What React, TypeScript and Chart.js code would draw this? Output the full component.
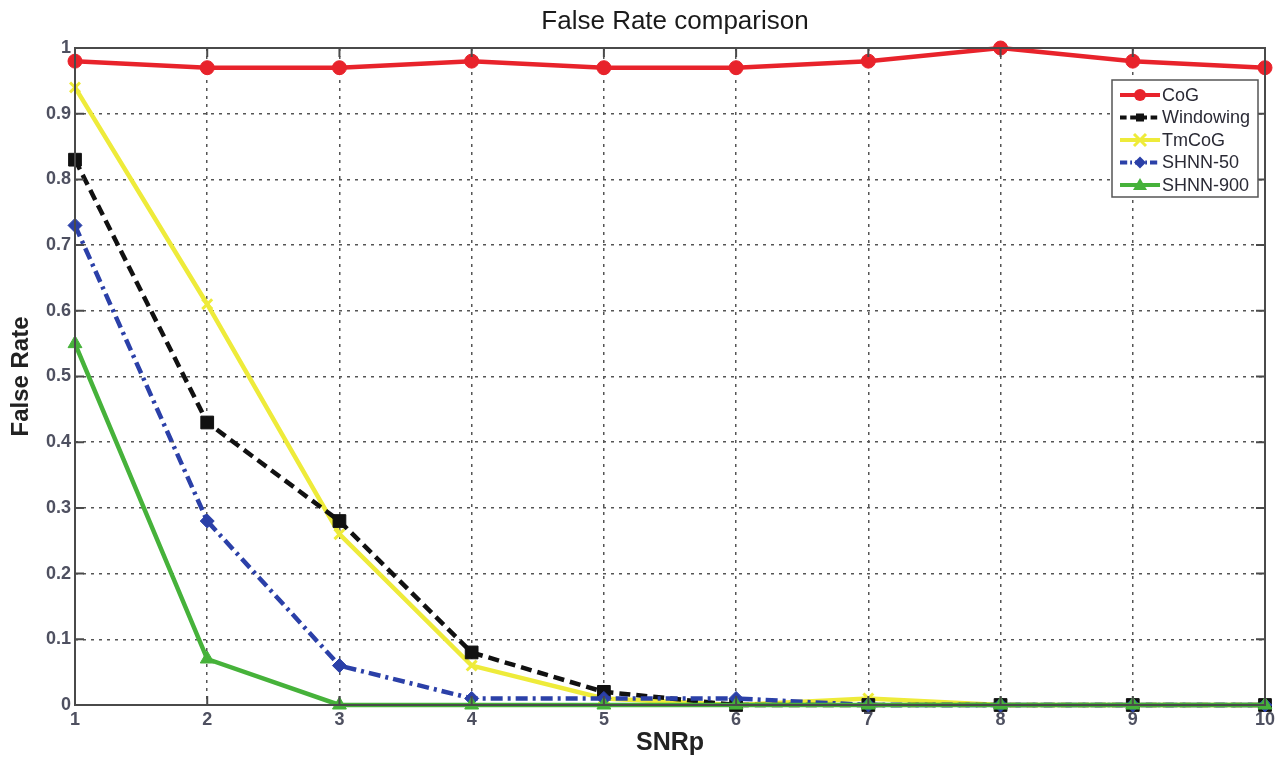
import React, { useEffect, useRef } from "react";
import { Chart, registerables } from "chart.js";

Chart.register(...registerables);

const snrp = [1, 2, 3, 4, 5, 6, 7, 8, 9, 10];
const cog = [0.98, 0.97, 0.97, 0.98, 0.97, 0.97, 0.98, 1.0, 0.98, 0.97];
const windowing = [0.83, 0.43, 0.28, 0.08, 0.02, 0, 0, 0, 0, 0];
const tmcog = [0.94, 0.61, 0.26, 0.06, 0.01, 0, 0.01, 0, 0, 0];
const shnn50 = [0.73, 0.28, 0.06, 0.01, 0.01, 0.01, 0, 0, 0, 0];
const shnn900 = [0.55, 0.07, 0, 0, 0, 0, 0, 0, 0, 0];
const yTicks = [0, 0.1, 0.2, 0.3, 0.4, 0.5, 0.6, 0.7, 0.8, 0.9, 1];
const titleText = "False Rate comparison";
const xTitle = "SNRp";
const yTitle = "False Rate";

const RED = "#e8232b";
const BLACK = "#111111";
const YELLOW = "#eeeb3a";
const BLUE = "#2b40a8";
const GREEN = "#46b23a";
const FONT = "Arial, 'Liberation Sans', sans-serif";

const series = [
  { label: "CoG", data: cog, color: RED, dash: [] as number[], style: "circle", r: 7, lr: 6, order: 4 },
  { label: "Windowing", data: windowing, color: BLACK, dash: [11, 6], style: "rect", r: 9, lr: 4, order: 2 },
  { label: "TmCoG", data: tmcog, color: YELLOW, dash: [] as number[], style: "crossRot", r: 7, lr: 6, order: 3 },
  { label: "SHNN-50", data: shnn50, color: BLUE, dash: [12, 5, 3, 5], style: "rectRot", r: 7, lr: 6, order: 1 },
  { label: "SHNN-900", data: shnn900, color: GREEN, dash: [] as number[], style: "triangle", r: 8, lr: 7, order: 0 },
];

function drawMarker(ctx: CanvasRenderingContext2D, style: string, x: number, y: number, r: number, color: string) {
  ctx.save();
  ctx.fillStyle = color;
  ctx.strokeStyle = color;
  ctx.lineWidth = 2;
  ctx.setLineDash([]);
  ctx.beginPath();
  if (style === "circle") {
    ctx.arc(x, y, r, 0, Math.PI * 2);
    ctx.fill();
  } else if (style === "rect") {
    ctx.fillRect(x - r, y - r, 2 * r, 2 * r);
  } else if (style === "rectRot") {
    ctx.moveTo(x, y - r);
    ctx.lineTo(x + r, y);
    ctx.lineTo(x, y + r);
    ctx.lineTo(x - r, y);
    ctx.closePath();
    ctx.fill();
  } else if (style === "triangle") {
    ctx.moveTo(x, y - r);
    ctx.lineTo(x + r, y + r * 0.7);
    ctx.lineTo(x - r, y + r * 0.7);
    ctx.closePath();
    ctx.fill();
  } else if (style === "crossRot") {
    ctx.lineWidth = 3;
    ctx.moveTo(x - r, y - r);
    ctx.lineTo(x + r, y + r);
    ctx.moveTo(x + r, y - r);
    ctx.lineTo(x - r, y + r);
    ctx.stroke();
  }
  ctx.restore();
}

const overlay = {
  id: "overlay",
  afterDatasetsDraw(chart: any) {
    const { ctx, chartArea: a, scales } = chart;
    ctx.save();
    ctx.strokeStyle = "#4a4a4a";
    ctx.lineWidth = 2;
    ctx.setLineDash([]);
    ctx.strokeRect(a.left, a.top, a.right - a.left, a.bottom - a.top);
    for (const v of yTicks) {
      const y = scales.y.getPixelForValue(v);
      ctx.beginPath();
      ctx.moveTo(a.left, y);
      ctx.lineTo(a.left + 9, y);
      ctx.moveTo(a.right, y);
      ctx.lineTo(a.right - 9, y);
      ctx.stroke();
    }
    for (const v of snrp) {
      const x = scales.x.getPixelForValue(v);
      ctx.beginPath();
      ctx.moveTo(x, a.bottom);
      ctx.lineTo(x, a.bottom - 9);
      ctx.moveTo(x, a.top);
      ctx.lineTo(x, a.top + 9);
      ctx.stroke();
    }
    ctx.restore();
  },
  afterDraw(chart: any) {
    const { ctx } = chart;
    ctx.save();
    ctx.fillStyle = "#1a1a1a";
    ctx.font = `26px ${FONT}`;
    ctx.textAlign = "center";
    ctx.textBaseline = "middle";
    ctx.fillText(titleText, 675, 22);
    const lx = 1112, ly = 80, lw = 146, lh = 117;
    ctx.fillStyle = "#ffffff";
    ctx.fillRect(lx, ly, lw, lh);
    ctx.strokeStyle = "#555";
    ctx.lineWidth = 1.5;
    ctx.strokeRect(lx, ly, lw, lh);
    series.forEach((s, i) => {
      const y = ly + 15 + i * 22.5;
      ctx.strokeStyle = s.color;
      ctx.lineWidth = 4;
      ctx.setLineDash(s.dash.length ? s.dash.map((d) => d * 0.6) : []);
      ctx.beginPath();
      ctx.moveTo(lx + 8, y);
      ctx.lineTo(lx + 48, y);
      ctx.stroke();
      drawMarker(ctx, s.style, lx + 28, y, s.lr, s.color);
      ctx.fillStyle = "#2a2a35";
      ctx.font = `18px ${FONT}`;
      ctx.textAlign = "left";
      ctx.textBaseline = "middle";
      ctx.fillText(s.label, lx + 50, y + 1);
    });
    ctx.restore();
  },
};

export default function App() {
  const ref = useRef<HTMLCanvasElement | null>(null);
  useEffect(() => {
    document.body.style.margin = "0";
    const canvas = ref.current!;
    const chart = new Chart(canvas, {
      type: "line",
      data: {
        datasets: series.map((s) => ({
          label: s.label,
          data: snrp.map((x, i) => ({ x, y: s.data[i] })),
          borderColor: s.color,
          backgroundColor: s.color,
          borderWidth: 4.5,
          borderDash: s.dash,
          pointStyle: s.style as any,
          pointRadius: s.r,
          pointBorderWidth: s.style === "crossRot" ? 3 : 1,
          pointBorderColor: s.color,
          pointBackgroundColor: s.color,
          fill: false,
          tension: 0,
          order: s.order,
          clip: 10 as any,
        })),
      },
      options: {
        animation: false,
        responsive: false,
        maintainAspectRatio: false,
        layout: { padding: { top: 48, right: 18, left: 0, bottom: 0 } },
        plugins: {
          legend: { display: false },
          title: { display: false },
          tooltip: { enabled: false },
        },
        scales: {
          x: {
            type: "linear",
            min: 1,
            max: 10,
            afterFit: (s: any) => {
              s.height = 53;
            },
            ticks: {
              stepSize: 1,
              color: "#4e5060",
              font: { size: 18, weight: "bold", family: FONT },
              padding: 4,
            },
            grid: { color: "#555", lineWidth: 1.5, tickLength: 0, drawTicks: false },
            border: { display: false, dash: [3, 5] },
            title: {
              display: true,
              text: xTitle,
              color: "#222",
              font: { size: 25, weight: "bold", family: FONT },
              padding: { top: 0, bottom: 0 },
            },
          },
          y: {
            min: 0,
            max: 1,
            afterFit: (s: any) => {
              s.width = 75;
            },
            afterBuildTicks: (s: any) => {
              s.ticks = yTicks.map((v) => ({ value: v }));
            },
            ticks: {
              color: "#4e5060",
              font: { size: 18, weight: "bold", family: FONT },
              padding: 4,
              callback: (v: any) => String(Number(Number(v).toFixed(1))),
            },
            grid: { color: "#555", lineWidth: 1.5, tickLength: 0, drawTicks: false },
            border: { display: false, dash: [3, 5] },
            title: {
              display: true,
              text: yTitle,
              color: "#222",
              font: { size: 24, weight: "bold", family: FONT },
              padding: { top: 7, bottom: 0 },
            },
          },
        },
      } as any,
      plugins: [overlay],
    });
    return () => chart.destroy();
  }, []);
  return (
    <div style={{ width: 1283, height: 758, background: "#fff" }}>
      <canvas ref={ref} width={1283} height={758} style={{ display: "block" }} />
    </div>
  );
}
